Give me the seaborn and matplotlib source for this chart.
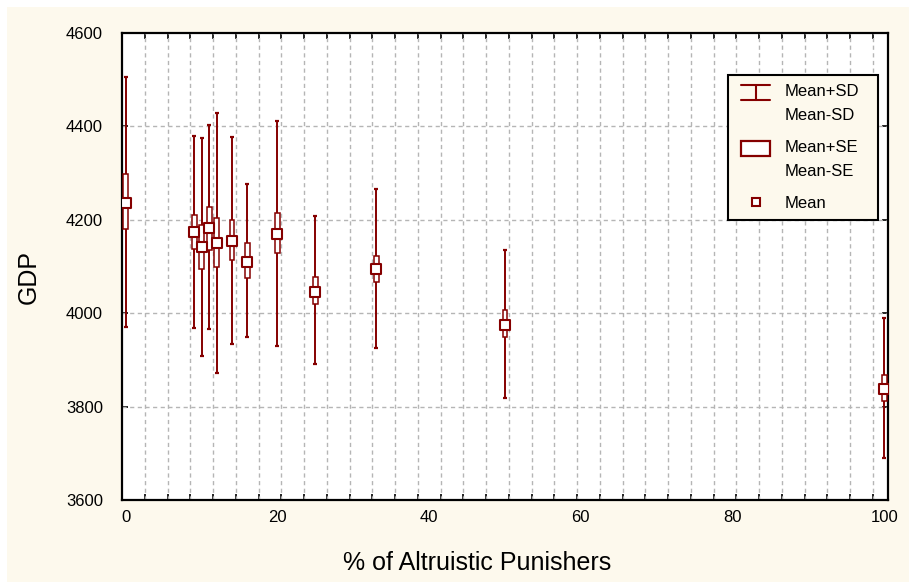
import numpy as np
import pandas as pd
import matplotlib
matplotlib.use("Agg")
import matplotlib.pyplot as plt
from matplotlib.lines import Line2D
from matplotlib.patches import Rectangle
from matplotlib.legend_handler import HandlerBase
import seaborn as sns

# ---- data ----
pct_punishers = [0, 9, 10, 11, 12, 14, 16, 20, 25, 33, 50, 100]
gdp_mean = [4237, 4174, 4142, 4182, 4150, 4154, 4110, 4170, 4046, 4094, 3974, 3838]
gdp_sd_hi = [4506, 4380, 4376, 4404, 4429, 4378, 4276, 4412, 4208, 4266, 4135, 3989]
gdp_sd_lo = [3970, 3969, 3908, 3966, 3873, 3935, 3948, 3930, 3891, 3926, 3819, 3689]
gdp_se_hi = [4298, 4210, 4188, 4228, 4203, 4200, 4150, 4215, 4078, 4122, 4007, 3868]
gdp_se_lo = [4180, 4138, 4095, 4135, 4100, 4114, 4075, 4128, 4020, 4067, 3948, 3811]
x_ticks = [0, 20, 40, 60, 80, 100]
y_ticks = [3600, 3800, 4000, 4200, 4400, 4600]
legend_labels = ["Mean+SD\nMean-SD", "Mean+SE\nMean-SE", "Mean"]

df = pd.DataFrame({"x": pct_punishers, "mean": gdp_mean,
                   "sd_hi": gdp_sd_hi, "sd_lo": gdp_sd_lo,
                   "se_hi": gdp_se_hi, "se_lo": gdp_se_lo})

RED = "#850000"
CREAM = "#FDF9ED"
GRID = "#b5b5b5"

sns.set_theme(style="white")
plt.rcParams["font.family"] = ["Liberation Sans", "DejaVu Sans"]

W, H = 909, 582
PX = 72 / 100  # points per pixel
fig = plt.figure(figsize=(W / 100, H / 100), dpi=100, facecolor="white")
fig.patches.append(Rectangle((7 / W, 0), 1, 1 - 7 / H, transform=fig.transFigure,
                             facecolor=CREAM, edgecolor="none", zorder=-10))
ax = fig.add_axes([122 / W, (H - 500) / H, 766 / W, 467 / H])
ax.set_facecolor("white")

xmin, xmax = -0.5, 100.5
ax.set_xlim(xmin, xmax)
ax.set_ylim(3600, 4600)

# SD whiskers
ax.errorbar(df["x"], df["mean"],
            yerr=[df["mean"] - df["sd_lo"], df["sd_hi"] - df["mean"]],
            fmt="none", ecolor=RED, elinewidth=1.4, capsize=1.2, capthick=1.6, zorder=3)
# SE boxes (drawn over the whisker)
ax.bar(df["x"], df["se_hi"] - df["se_lo"], bottom=df["se_lo"], width=0.65,
       facecolor="white", edgecolor=RED, linewidth=1.1, zorder=4)
# means
sns.scatterplot(data=df, x="x", y="mean", marker="s", s=44, color="white",
                edgecolor=RED, linewidth=1.5, zorder=5, ax=ax, legend=False)

# ticks & grid
minor_x = np.arange(xmin + 3, xmax, 3)
ax.set_xticks(x_ticks)
ax.set_xticks(minor_x, minor=True)
ax.set_yticks(y_ticks)
ax.tick_params(axis="x", which="major", length=0, pad=7.5, labelsize=12, colors="black")
ax.tick_params(axis="x", which="minor", direction="in", length=4, width=1.2,
               top=True, bottom=True, color="black")
ax.tick_params(axis="y", which="major", direction="in", length=4, width=1.2,
               left=True, right=True, pad=13.7, labelsize=12, color="black", labelcolor="black")
ax.grid(False)
for xv in minor_x:
    ax.axvline(xv, color=GRID, lw=1.0, ls=(0, (3, 2.5)), zorder=1)
for yv in y_ticks[1:-1]:
    ax.axhline(yv, color=GRID, lw=1.0, ls=(0, (3, 2.5)), zorder=1)
for s in ax.spines.values():
    s.set_color("black")
    s.set_linewidth(1.6)
    s.set_visible(True)

ax.set_xlabel("% of Altruistic Punishers", fontsize=18, color="black")
ax.set_ylabel("GDP", fontsize=18, color="black")
ax.xaxis.label.set_va("center")
ax.xaxis.label.set_ha("left")
ax.yaxis.label.set_va("center")
ax.xaxis.set_label_coords((343 - 122) / 766, (500 - 563) / 467)
ax.yaxis.set_label_coords((29 - 122) / 766, 1 - (277 - 33) / 467)

# ---- legend with custom handles ----
SHIFT = 11.3 * PX     # half a text line, so the symbol sits beside the first line
SYM_W = 29 * PX       # symbol width
SYM_OFF = 4 * PX      # extra space left of the symbol


class SDHandler(HandlerBase):
    def create_artists(self, legend, orig, xd, yd, width, height, fontsize, trans):
        yc = height / 2 - yd + SHIFT
        x1 = -xd + width
        x0 = x1 - SYM_W
        h = 7.5 * PX
        xm = (x0 + x1) / 2
        arts = [Line2D([x0, x1], [yc + h, yc + h]), Line2D([x0, x1], [yc - h, yc - h]),
                Line2D([xm, xm], [yc - h, yc + h])]
        for a in arts:
            a.set_color(RED)
            a.set_linewidth(1.5)
            a.set_transform(trans)
        return arts


class SEHandler(HandlerBase):
    def create_artists(self, legend, orig, xd, yd, width, height, fontsize, trans):
        yc = height / 2 - yd + SHIFT
        x1 = -xd + width
        h = 7.5 * PX
        r = Rectangle((x1 - SYM_W, yc - h), SYM_W, 2 * h, facecolor="white",
                      edgecolor=RED, linewidth=1.6, transform=trans)
        return [r]


class MeanHandler(HandlerBase):
    def create_artists(self, legend, orig, xd, yd, width, height, fontsize, trans):
        yc = height / 2 - yd
        xm = -xd + width - SYM_W / 2
        m = Line2D([xm], [yc], marker="s", markersize=5.3, markerfacecolor="white",
                   markeredgecolor=RED, markeredgewidth=1.5, linestyle="none",
                   transform=trans)
        return [m]


h_sd = Line2D([], [], color=RED)
h_se = Rectangle((0, 0), 1, 1, facecolor="white", edgecolor=RED)
h_mean = Line2D([], [], marker="s", color=RED)
fs = 12
leg = ax.legend([h_sd, h_se, h_mean], legend_labels,
                handler_map={h_sd: SDHandler(), h_se: SEHandler(), h_mean: MeanHandler()},
                loc="upper left", mode="expand",
                bbox_to_anchor=(728 / W, (H - 220) / H, 150 / W, 145 / H),
                bbox_transform=fig.transFigure, borderaxespad=0,
                fontsize=fs, handlelength=(SYM_W + SYM_OFF) / fs,
                handletextpad=14 * PX / fs,
                borderpad=0.55, labelspacing=1.0, frameon=True, fancybox=False,
                framealpha=1, facecolor=CREAM, edgecolor="black")
leg.get_frame().set_linewidth(1.5)
leg.set_zorder(10)
for t in leg.get_texts():
    t.set_linespacing(1.75)
    t.set_color("black")

fig.savefig("out.png", dpi=100, facecolor=fig.get_facecolor())
